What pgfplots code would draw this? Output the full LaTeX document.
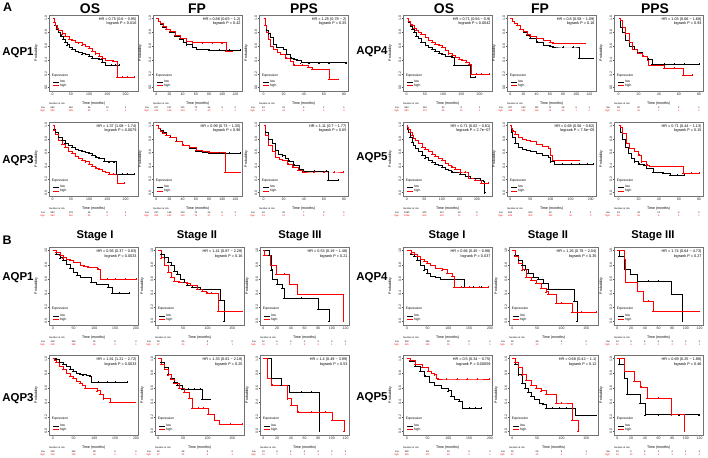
\documentclass[border=0pt]{standalone}
\usepackage{pgfplots}
\pgfplotsset{compat=1.18}
\usepackage{fontspec}
\setmainfont{Liberation Sans}
\newcommand\fs[2]{\fontsize{#1}{#2}\selectfont}
\definecolor{kmred}{RGB}{255,0,0}
\tikzset{riskf/.style={font=\fs{2.4}{3}, inner sep=0pt}}
\pgfplotsset{
  km/.style={
    scale only axis, width=89bp, anchor=north west,
    ymin=-0.05, ymax=1.05,
    ytick={0,0.2,0.4,0.6,0.8,1},
    yticklabels={0.0,0.2,0.4,0.6,0.8,1.0},
    /pgf/number format/assume math mode=true,
    tick align=outside, xtick pos=bottom, ytick pos=left,
    major tick length=1.3bp,
    every tick/.style={black!70, line width=0.3bp},
    axis line style={draw=black!55, line width=0.55bp},
    xticklabel style={font=\fs{3.5}{4}, inner sep=0.4bp, text=black!85},
    yticklabel style={font=\fs{3.5}{4}, rotate=90, anchor=south, inner sep=0.4bp, text=black!85},
    xlabel={Time (months)}, ylabel={Probability},
    every axis x label/.style={at={(rel axis cs:0.5,0)}, anchor=north, yshift=-7bp, font=\fs{3.6}{4}},
    every axis y label/.style={at={(rel axis cs:0,0.5)}, xshift=-7.5bp, anchor=south, rotate=90, font=\fs{3.6}{4}},
    clip=false,
    legend entries={low,high},
    legend style={at={(0.045,0.035)}, anchor=south west, draw=none, fill=none, font=\fs{3.3}{4}, inner sep=0pt, row sep=-1.3bp, nodes={inner sep=0.5bp}},
    legend cell align=left,
    legend image code/.code={\draw[#1, mark=none] (0bp,0bp) -- (6bp,0bp);},
  },
  lowc/.style={black, line width=0.42bp, const plot, mark=+, mark size=0.75bp, mark repeat=1, mark phase=2, mark options={line width=0.25bp}},
  highc/.style={kmred, line width=0.42bp, const plot, mark=+, mark size=0.75bp, mark repeat=1, mark phase=2, mark options={line width=0.25bp}},
  os/.style={xmin=-10, xmax=234, xtick={0,50,100,150,200}},
  osw/.style={xmin=-11, xmax=243, xtick={0,50,100,150,200}},
  fp/.style={xmin=-5, xmax=130, xtick={0,20,40,60,80,100,120}},
  fpw/.style={xmin=-8, xmax=213, xtick={0,50,100,150,200}},
  pps/.style={xmin=-4.5, xmax=84, xtick={0,20,40,60,80}},
  sa/.style={xmin=-9, xmax=205, xtick={0,50,100,150,200}},
  sb/.style={xmin=-7, xmax=174, xtick={0,50,100,150}},
  sc/.style={xmin=-5, xmax=125, xtick={0,20,40,60,80,100,120}},
}
\newcommand\HR[2]{%
  \node[anchor=north east, align=right, font=\fs{3.8}{4.4}, inner sep=0pt] at (rel axis cs:0.985,0.965) {HR = #1\\logrank P = #2};
  \node[anchor=west, font=\fs{3.3}{4}, inner sep=0pt] at (rel axis cs:0.03,0.205) {Expression};
}
\newcommand\risk[2]{%
  \node[riskf, anchor=west, yshift=-13bp] at (rel axis cs:0,0) {Number at risk};
  \node[riskf, anchor=east, xshift=-4bp, yshift=-16.3bp] at (rel axis cs:0,0) {low};
  \node[riskf, anchor=east, xshift=-4bp, yshift=-19.5bp, text=kmred] at (rel axis cs:0,0) {high};
  \foreach \xx/\nn in {#1} {\edef\tmp{\noexpand\node[riskf, yshift=-16.3bp] at ({axis cs:\xx,0}|-{rel axis cs:0,0}) {\nn};}\tmp}%
  \foreach \xx/\nn in {#2} {\edef\tmp{\noexpand\node[riskf, yshift=-19.5bp, text=kmred] at ({axis cs:\xx,0}|-{rel axis cs:0,0}) {\nn};}\tmp}%
}
\begin{document}
\begin{tikzpicture}
\useasboundingbox (0,0) rectangle (708bp,-458bp);
% ---------- labels
\node[font=\bfseries\fs{12.5}{12.5}] at (7.5bp,-7.5bp) {A};
\node[font=\bfseries\fs{12.5}{12.5}] at (7bp,-240bp) {B};
\foreach \x/\t in {90/OS,197/FP,304/PPS,444/OS,540/FP,655/PPS}
  \node[font=\bfseries\fs{14}{14}] at (\x bp,-8.5bp) {\t};
\foreach \x/\t in {95/Stage I,197/Stage II,300/Stage III,447/Stage I,548/Stage II,653/Stage III}
  \node[font=\bfseries\fs{11.3}{11.3}] at (\x bp,-236bp) {\t};
\foreach \x/\y/\t in {18/53/AQP1,18/161/AQP3,372/52/AQP4,372/158/AQP5,18/278/AQP1,18/399/AQP3,372/278/AQP4,372/398/AQP5}
  \node[font=\bfseries\fs{11.5}{11.5}] at (\x bp,-\y bp) {\t};

% =================== A: AQP1
\begin{axis}[km, os, at={(49bp,-15bp)}, height=76bp]
\addplot[lowc] coordinates {(0,1)(3,0.95)(6,0.9)(10,0.85)(16,0.8)(22,0.75)(28,0.7)(34,0.66)(40,0.62)(46,0.59)(53,0.56)(62,0.53)(71,0.51)(80,0.49)(90,0.48)(100,0.46)(108,0.43)(118,0.42)(127,0.41)(135,0.37)(145,0.33)(160,0.33)(170,0.33)(182,0.33)};
\addplot[highc] coordinates {(0,1)(4,0.95)(8,0.9)(12,0.86)(16,0.83)(25,0.78)(34,0.74)(45,0.7)(53,0.69)(62,0.66)(71,0.65)(80,0.62)(90,0.6)(100,0.57)(108,0.53)(118,0.49)(127,0.46)(135,0.43)(145,0.4)(155,0.39)(165,0.38)(177,0.15)(190,0.15)(205,0.15)(224,0.15)};
\HR{0.75 (0.6 − 0.95)}{0.016}
\risk{0/580,50/150,100/36,150/10,200/1}{0/580,50/185,100/43,150/4,200/1}
\end{axis}
\begin{axis}[km, fp, at={(153bp,-15bp)}, height=76bp]
\addplot[lowc] coordinates {(0,1)(3,0.96)(6,0.92)(10,0.88)(15,0.84)(21,0.8)(28,0.75)(36,0.7)(41,0.66)(46,0.62)(55,0.58)(61,0.56)(71,0.55)(80,0.54)(95,0.54)(110,0.54)(127,0.54)};
\addplot[highc] coordinates {(0,1)(3,0.96)(6,0.93)(10,0.89)(15,0.85)(21,0.81)(28,0.76)(36,0.72)(46,0.67)(55,0.65)(70,0.65)(85,0.65)(100,0.65)(106,0.52)(115,0.52)};
\HR{0.88 (0.65 − 1.2)}{0.42}
\risk{0/237,20/157,40/121,60/75,80/34,100/5,120/2}{0/235,20/160,40/124,60/77,80/40,100/7,120/2}
\end{axis}
\begin{axis}[km, pps, at={(259bp,-15bp)}, height=76bp]
\addplot[lowc] coordinates {(0,1)(1.5,0.9)(3,0.83)(5,0.78)(7,0.73)(10,0.63)(13,0.58)(20,0.55)(23,0.48)(27,0.43)(30,0.41)(33,0.39)(37,0.36)(45,0.36)(55,0.36)(65,0.36)(82,0.36)};
\addplot[highc] coordinates {(0,1)(1.5,0.9)(3,0.8)(5,0.7)(7,0.6)(10,0.55)(14,0.51)(17,0.48)(22,0.43)(27,0.38)(30,0.33)(38,0.33)(44,0.3)(48,0.26)(55,0.26)(65,0.12)(74,0.12)};
\HR{1.25 (0.78 − 2)}{0.35}
\risk{0/62,20/23,40/6,60/2,80/1}{0/61,20/24,40/6,60/2,80/0}
\end{axis}
% =================== A: AQP3
\begin{axis}[km, os, at={(49bp,-122bp)}, height=74bp]
\addplot[lowc] coordinates {(0,1)(4,0.94)(8,0.9)(16,0.83)(25,0.78)(34,0.74)(43,0.71)(53,0.68)(62,0.65)(71,0.63)(80,0.61)(90,0.6)(100,0.58)(108,0.56)(118,0.53)(127,0.51)(141,0.47)(155,0.46)(168,0.46)(175,0.28)(190,0.28)(205,0.28)(224,0.28)};
\addplot[highc] coordinates {(0,1)(4,0.93)(8,0.87)(16,0.78)(25,0.72)(34,0.67)(43,0.62)(53,0.58)(62,0.54)(71,0.51)(80,0.48)(90,0.46)(100,0.43)(108,0.4)(118,0.37)(127,0.35)(136,0.32)(145,0.3)(155,0.28)(165,0.28)(178,0.14)(196,0.14)};
\HR{1.37 (1.08 − 1.74)}{0.0079}
\risk{0/580,50/178,100/36,150/9,200/1}{0/580,50/160,100/35,150/5,200/1}
\end{axis}
\begin{axis}[km, fp, at={(153bp,-122bp)}, height=74bp]
\addplot[lowc] coordinates {(0,1)(3,0.96)(6,0.93)(10,0.9)(15,0.86)(21,0.83)(30,0.77)(40,0.71)(50,0.66)(60,0.62)(70,0.6)(80,0.59)(95,0.59)(110,0.59)(127,0.59)};
\addplot[highc] coordinates {(0,1)(3,0.96)(6,0.92)(10,0.89)(15,0.85)(21,0.82)(30,0.76)(40,0.71)(50,0.67)(60,0.63)(70,0.61)(80,0.6)(90,0.6)(104,0.3)(115,0.3)(127,0.3)};
\HR{0.99 (0.73 − 1.35)}{0.96}
\risk{0/237,20/158,40/120,60/74,80/35,100/5,120/1}{0/235,20/160,40/122,60/76,80/37,100/6,120/1}
\end{axis}
\begin{axis}[km, pps, at={(259bp,-122bp)}, height=74bp]
\addplot[lowc] coordinates {(0,1)(2,0.9)(5,0.8)(9,0.73)(12,0.63)(15,0.57)(19,0.55)(22,0.51)(25,0.47)(30,0.41)(35,0.35)(39,0.32)(50,0.32)(62,0.32)(64,0.19)(74,0.19)};
\addplot[highc] coordinates {(0,1)(2,0.85)(5,0.7)(9,0.61)(12,0.53)(16,0.5)(19,0.48)(24,0.43)(29,0.38)(34,0.34)(39,0.31)(50,0.31)(60,0.31)(70,0.31)(79,0.31)};
\HR{1.11 (0.7 − 1.77)}{0.65}
\risk{0/62,20/25,40/7,60/3,80/1}{0/61,20/21,40/6,60/2,80/1}
\end{axis}
% =================== A: AQP4
\begin{axis}[km, os, at={(403bp,-15bp)}, height=76bp]
\addplot[lowc] coordinates {(0,1)(5,0.94)(10,0.89)(14,0.85)(20,0.8)(26,0.75)(32,0.71)(40,0.66)(51,0.61)(60,0.58)(69,0.55)(78,0.52)(88,0.5)(97,0.48)(106,0.46)(115,0.45)(124,0.44)(130,0.33)(145,0.32)(160,0.32)(175,0.15)(187,0.15)};
\addplot[highc] coordinates {(0,1)(5,0.96)(10,0.92)(14,0.9)(20,0.86)(26,0.83)(32,0.8)(40,0.77)(51,0.73)(60,0.69)(69,0.66)(78,0.63)(88,0.61)(97,0.59)(106,0.54)(115,0.49)(124,0.47)(134,0.44)(143,0.41)(152,0.39)(162,0.37)(171,0.34)(177,0.2)(190,0.2)(205,0.2)(226,0.2)};
\HR{0.71 (0.56 − 0.9)}{0.0042}
\risk{0/580,50/150,100/30,150/8,200/1}{0/580,50/170,100/46,150/11,200/1}
\end{axis}
\begin{axis}[km, fp, at={(507bp,-15bp)}, height=76bp]
\addplot[lowc] coordinates {(0,1)(3,0.96)(6,0.93)(10,0.9)(15,0.85)(20,0.8)(25,0.76)(30,0.72)(40,0.66)(50,0.61)(60,0.6)(65,0.59)(80,0.59)(95,0.59)(104,0.42)(115,0.42)(125,0.42)};
\addplot[highc] coordinates {(0,1)(3,0.96)(6,0.93)(10,0.9)(15,0.85)(20,0.81)(25,0.77)(30,0.74)(40,0.71)(50,0.69)(60,0.66)(65,0.64)(80,0.64)(95,0.64)(113,0.64)};
\HR{0.8 (0.58 − 1.09)}{0.16}
\risk{0/237,20/150,40/112,60/70,80/28,100/5,120/1}{0/235,20/162,40/126,60/78,80/36,100/7,120/2}
\end{axis}
\begin{axis}[km, pps, at={(614bp,-15bp)}, height=76bp]
\addplot[lowc] coordinates {(0,1)(2,0.88)(4,0.8)(7,0.68)(11,0.6)(16,0.55)(19,0.51)(24,0.46)(29,0.41)(33,0.34)(45,0.34)(55,0.34)(65,0.34)(80,0.34)};
\addplot[highc] coordinates {(0,1)(2,0.98)(4,0.88)(7,0.78)(11,0.66)(14,0.56)(19,0.5)(24,0.46)(29,0.39)(30,0.32)(38,0.32)(45,0.28)(55,0.28)(64,0.18)(73,0.18)};
\HR{1.03 (0.66 − 1.68)}{0.93}
\risk{0/59,20/20,40/5,60/2,80/1}{0/64,20/26,40/7,60/2,80/0}
\end{axis}
% =================== A: AQP5
\begin{axis}[km, osw, at={(403bp,-122bp)}, height=74bp]
\addplot[lowc] coordinates {(0,1)(2,0.95)(5,0.9)(9,0.82)(14,0.75)(19,0.7)(24,0.66)(33,0.61)(43,0.56)(52,0.52)(62,0.48)(71,0.45)(81,0.43)(90,0.41)(100,0.38)(110,0.35)(119,0.33)(128,0.31)(138,0.3)(152,0.27)(167,0.24)(181,0.22)(195,0.21)(210,0.19)(219,0.17)(222,0)};
\addplot[highc] coordinates {(0,1)(2,0.98)(5,0.95)(9,0.9)(14,0.85)(19,0.81)(24,0.78)(33,0.73)(43,0.68)(52,0.64)(62,0.61)(71,0.57)(81,0.54)(90,0.51)(100,0.48)(110,0.44)(119,0.41)(128,0.38)(138,0.35)(152,0.31)(165,0.31)(176,0.22)(195,0.19)(212,0.14)(233,0.14)};
\HR{0.71 (0.62 − 0.81)}{2.7e−07}
\risk{0/1060,50/340,100/107,150/40,200/5}{0/1046,50/425,100/130,150/37,200/5}
\end{axis}
\begin{axis}[km, fpw, at={(507bp,-122bp)}, height=74bp]
\addplot[lowc] coordinates {(0,1)(3,0.9)(6,0.82)(12,0.73)(20,0.68)(30,0.65)(40,0.63)(50,0.61)(65,0.58)(80,0.56)(95,0.53)(100,0.46)(110,0.43)(130,0.43)(150,0.43)(170,0.43)(190,0.43)(205,0.43)};
\addplot[highc] coordinates {(0,1)(3,0.96)(6,0.92)(12,0.87)(20,0.83)(30,0.8)(40,0.78)(50,0.76)(65,0.72)(80,0.69)(95,0.66)(100,0.56)(105,0.48)(120,0.48)(140,0.48)(160,0.48)(172,0.48)};
\HR{0.68 (0.56 − 0.82)}{7.5e−05}
\risk{0/650,50/190,100/62,150/8,200/1}{0/654,50/305,100/102,150/15,200/0}
\end{axis}
\begin{axis}[km, pps, at={(614bp,-122bp)}, height=74bp]
\addplot[lowc] coordinates {(0,1)(2,0.9)(4,0.8)(7,0.68)(10,0.58)(13,0.51)(16,0.46)(20,0.43)(25,0.41)(28,0.36)(34,0.31)(44,0.29)(51,0.26)(58,0.26)(65,0.26)};
\addplot[highc] coordinates {(0,1)(2,0.98)(4,0.88)(8,0.73)(11,0.66)(16,0.61)(20,0.56)(23,0.46)(28,0.41)(31,0.39)(40,0.39)(50,0.39)(64,0.29)(72,0.29)(80,0.29)};
\HR{0.71 (0.44 − 1.13)}{0.15}
\risk{0/63,20/24,40/10,60/3,80/0}{0/62,20/28,40/8,60/4,80/1}
\end{axis}
% =================== B: AQP1
\begin{axis}[km, sa, at={(49bp,-247bp)}, height=78bp]
\addplot[lowc] coordinates {(0,1)(8,0.95)(17,0.9)(25,0.86)(33,0.81)(42,0.75)(50,0.69)(58,0.65)(67,0.63)(79,0.62)(92,0.55)(105,0.53)(117,0.52)(133,0.48)(142,0.4)(160,0.4)(183,0.4)};
\addplot[highc] coordinates {(0,1)(8,0.98)(17,0.94)(25,0.9)(33,0.88)(42,0.86)(50,0.84)(58,0.83)(67,0.8)(75,0.78)(85,0.77)(96,0.76)(108,0.74)(115,0.6)(130,0.6)(150,0.6)(175,0.6)(200,0.6)};
\HR{0.56 (0.37 − 0.83)}{0.0033}
\risk{0/330,50/130,100/31,150/5,200/0}{0/329,50/138,100/36,150/3,200/1}
\end{axis}
\begin{axis}[km, sb, at={(155bp,-247bp)}, height=78bp]
\addplot[lowc] coordinates {(0,1)(5,0.95)(12,0.9)(19,0.84)(25,0.79)(32,0.71)(38,0.67)(45,0.6)(52,0.55)(58,0.51)(68,0.48)(85,0.45)(100,0.45)(115,0.45)(125,0.3)(133,0)};
\addplot[highc] coordinates {(0,1)(5,0.9)(12,0.79)(19,0.69)(25,0.62)(32,0.57)(42,0.55)(58,0.54)(65,0.51)(78,0.45)(88,0.43)(98,0.4)(108,0.4)(121,0.14)(140,0.14)(170,0.14)};
\HR{1.41 (0.87 − 2.28)}{0.16}
\risk{0/90,50/40,100/6,150/0}{0/87,50/29,100/6,150/1}
\end{axis}
\begin{axis}[km, sc, at={(260bp,-247bp)}, height=78bp]
\addplot[lowc] coordinates {(0,1)(8,0.93)(11,0.73)(13,0.6)(20,0.53)(27,0.47)(30,0.33)(55,0.33)(80,0.17)(96,0)};
\addplot[highc] coordinates {(0,1)(1,0.93)(10,0.8)(18,0.67)(30,0.67)(38,0.53)(50,0.38)(80,0.38)(100,0.38)(117,0)};
\HR{0.53 (0.19 − 1.48)}{0.21}
\risk{0/12,20/6,40/3,60/2,80/2,100/0,120/0}{0/14,20/9,40/7,60/4,80/3,100/1,120/1}
\end{axis}
% =================== B: AQP3
\begin{axis}[km, sa, at={(49bp,-355bp)}, height=80bp]
\addplot[lowc] coordinates {(0,1)(8,0.99)(16,0.95)(25,0.93)(33,0.9)(41,0.85)(49,0.83)(57,0.8)(65,0.79)(73,0.78)(81,0.77)(89,0.76)(93,0.68)(110,0.68)(130,0.68)(150,0.68)(179,0.68)};
\addplot[highc] coordinates {(0,1)(4,0.98)(8,0.95)(16,0.9)(25,0.85)(33,0.8)(41,0.76)(49,0.73)(57,0.69)(65,0.66)(71,0.63)(77,0.6)(93,0.59)(106,0.56)(114,0.51)(122,0.45)(138,0.4)(160,0.4)(180,0.4)(199,0.4)};
\HR{1.81 (1.21 − 2.72)}{0.0033}
\risk{0/330,50/150,100/38,150/5,200/0}{0/329,50/118,100/29,150/3,200/1}
\end{axis}
\begin{axis}[km, sb, at={(155bp,-355bp)}, height=80bp]
\addplot[lowc] coordinates {(0,1)(5,0.95)(12,0.88)(19,0.79)(25,0.73)(32,0.68)(38,0.63)(48,0.58)(60,0.58)(72,0.58)(84,0.58)(88,0.44)(95,0.44)(105,0.44)};
\addplot[highc] coordinates {(0,1)(5,0.93)(12,0.85)(19,0.78)(25,0.72)(32,0.66)(42,0.59)(52,0.54)(62,0.46)(68,0.32)(80,0.32)(90,0.32)(101,0.24)(114,0.15)(124,0.1)(145,0.1)(170,0.1)};
\HR{1.33 (0.81 − 2.18)}{0.25}
\risk{0/90,50/38,100/6,150/0}{0/87,50/31,100/6,150/1}
\end{axis}
\begin{axis}[km, sc, at={(260bp,-355bp)}, height=80bp]
\addplot[lowc] coordinates {(0,1)(12,0.73)(26,0.63)(38,0.54)(55,0.54)(70,0.54)(82,0)};
\addplot[highc] coordinates {(0,1)(6,0.73)(12,0.64)(35,0.45)(40,0.36)(50,0.27)(70,0.27)(90,0.27)(100,0.15)(118,0)};
\HR{1.4 (0.49 − 3.99)}{0.53}
\risk{0/13,20/8,40/5,60/5,80/5,100/0,120/0}{0/13,20/7,40/5,60/3,80/3,100/1,120/1}
\end{axis}
% =================== B: AQP4
\begin{axis}[km, sa, at={(403bp,-247bp)}, height=78bp]
\addplot[lowc] coordinates {(0,1)(10,0.95)(17,0.92)(25,0.87)(33,0.8)(41,0.73)(49,0.68)(57,0.64)(69,0.62)(81,0.59)(95,0.59)(110,0.59)(125,0.59)(137,0.49)(160,0.49)(180,0.49)};
\addplot[highc] coordinates {(0,1)(10,0.97)(17,0.95)(25,0.92)(33,0.88)(41,0.85)(49,0.82)(57,0.8)(69,0.75)(85,0.73)(97,0.68)(109,0.64)(113,0.49)(130,0.49)(150,0.49)(175,0.49)(196,0.49)};
\HR{0.66 (0.45 − 0.98)}{0.037}
\risk{0/330,50/125,100/33,150/5,200/0}{0/329,50/143,100/34,150/3,200/1}
\end{axis}
\begin{axis}[km, sb, at={(509bp,-247bp)}, height=78bp]
\addplot[lowc] coordinates {(0,1)(5,0.94)(12,0.87)(19,0.8)(25,0.73)(32,0.68)(42,0.63)(52,0.59)(62,0.54)(72,0.45)(90,0.45)(105,0.45)(118,0.45)(125,0.28)(131,0)};
\addplot[highc] coordinates {(0,1)(5,0.92)(12,0.82)(19,0.73)(28,0.63)(38,0.58)(48,0.54)(58,0.47)(68,0.42)(72,0.38)(80,0.38)(88,0.26)(100,0.26)(121,0.13)(140,0.13)(170,0.13)};
\HR{1.26 (0.78 − 2.04)}{0.35}
\risk{0/90,50/36,100/5,150/0}{0/87,50/33,100/7,150/1}
\end{axis}
\begin{axis}[km, sc, at={(614bp,-247bp)}, height=78bp]
\addplot[lowc] coordinates {(0,1)(2,0.92)(10,0.74)(19,0.67)(29,0.57)(45,0.57)(60,0.57)(79,0.38)(95,0)};
\addplot[highc] coordinates {(0,1)(10,0.88)(12,0.55)(29,0.43)(38,0.29)(45,0.29)(52,0.14)(80,0.14)(119,0.14)};
\HR{1.74 (0.64 − 4.73)}{0.27}
\risk{0/13,20/8,40/6,60/5,80/3,100/0,120/0}{0/13,20/6,40/3,60/2,80/2,100/1,120/1}
\end{axis}
% =================== B: AQP5
\begin{axis}[km, sa, at={(403bp,-355bp)}, height=80bp]
\addplot[lowc] coordinates {(0,1)(8,0.97)(20,0.9)(32,0.83)(43,0.76)(55,0.68)(67,0.63)(83,0.6)(99,0.56)(107,0.49)(115,0.44)(126,0.41)(134,0.32)(150,0.32)(165,0.32)(178,0.32)};
\addplot[highc] coordinates {(0,1)(8,0.98)(20,0.93)(36,0.88)(51,0.83)(59,0.8)(67,0.78)(71,0.73)(75,0.72)(95,0.72)(120,0.72)(145,0.72)(170,0.72)(198,0.72)};
\HR{0.5 (0.34 − 0.75)}{0.00059}
\risk{0/330,50/95,100/24,150/3,200/0}{0/329,50/173,100/45,150/5,200/1}
\end{axis}
\begin{axis}[km, sb, at={(509bp,-355bp)}, height=80bp]
\addplot[lowc] coordinates {(0,1)(5,0.93)(12,0.78)(19,0.66)(25,0.6)(32,0.54)(38,0.49)(45,0.44)(55,0.39)(62,0.37)(68,0.32)(80,0.32)(95,0.32)(110,0.32)(128,0.22)(150,0.22)(170,0.22)};
\addplot[highc] coordinates {(0,1)(5,0.95)(12,0.88)(19,0.78)(28,0.71)(38,0.63)(48,0.59)(58,0.56)(68,0.51)(88,0.39)(100,0.39)(121,0.15)(133,0)};
\HR{0.68 (0.42 − 1.1)}{0.12}
\risk{0/90,50/26,100/8,150/1}{0/87,50/43,100/4,150/0}
\end{axis}
\begin{axis}[km, sc, at={(614bp,-355bp)}, height=80bp]
\addplot[lowc] coordinates {(0,1)(2,0.93)(10,0.73)(14,0.51)(33,0.39)(40,0.23)(60,0.23)(90,0.23)(119,0.23)};
\addplot[highc] coordinates {(0,1)(10,0.83)(24,0.69)(34,0.61)(43,0.46)(60,0.46)(79,0.23)(98,0)};
\HR{0.69 (0.25 − 1.88)}{0.46}
\risk{0/13,20/6,40/5,60/2,80/2,100/1,120/0}{0/13,20/10,40/6,60/4,80/3,100/1,120/0}
\end{axis}
\end{tikzpicture}
\end{document}
